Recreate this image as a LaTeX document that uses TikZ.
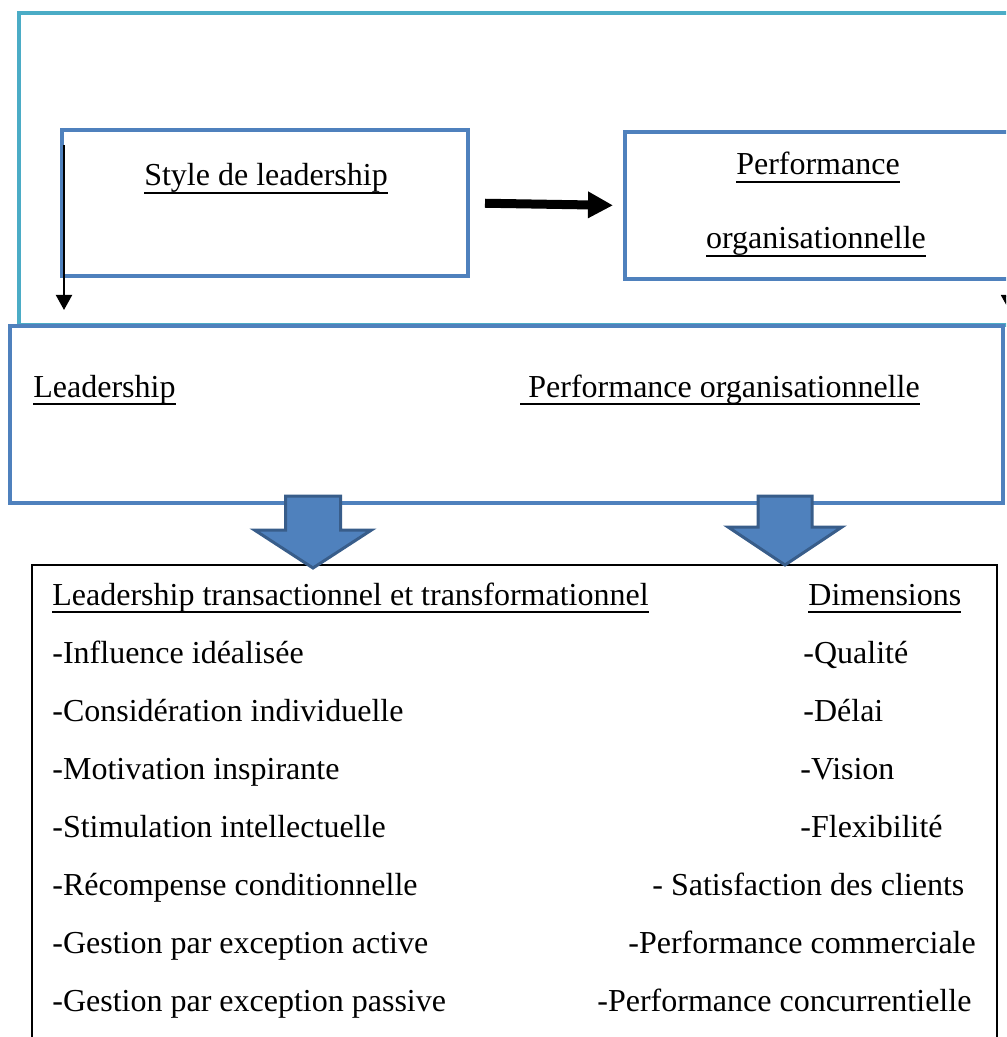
\documentclass[tikz,border=0pt]{standalone}
\usepackage{fontspec}
\setmainfont{Liberation Serif}
\usetikzlibrary{arrows.meta}

\definecolor{wordblue}{HTML}{4F81BD}
\definecolor{wordcyan}{HTML}{4BACC6}
\definecolor{wordedge}{HTML}{385D8A}

% underline at a fixed depth, as a word processor does
\newcommand{\souligne}[1]{\setbox0\hbox{#1}\rlap{\rule[-3.9pt]{\wd0}{0.9pt}}\box0}

\begin{document}
\begin{tikzpicture}[x=0.5pt, y=-0.5pt,
    every node/.style={font=\fontsize{16}{19}\selectfont},
    outerframe/.style={rectangle, draw=wordcyan, line width=2pt, inner sep=0pt},
    panel/.style={rectangle, draw=wordblue, line width=2pt, inner sep=0pt},
    listbox/.style={rectangle, draw=black, line width=1pt, inner sep=0pt},
    lefttext/.style={anchor=base west, inner sep=0pt},
    midtext/.style={anchor=base, inner sep=0pt},
    thinarrow/.style={-{Triangle[length=7.5pt, width=8pt]}, line width=1pt},
    thickarrow/.style={-{Triangle[length=12.5pt, width=12.5pt]}, line width=4.5pt},
    block/.style={fill=wordblue, draw=wordedge, line width=1.5pt, line join=miter}
    ]
    \useasboundingbox (0,0) rectangle (1006,1037);
    \clip (0,0) rectangle (1006,1037);

    % boxes
    \node (cadre) [outerframe, minimum width=510.5pt, minimum height=156pt] at (529.5,169) {};
    \node (style) [panel, minimum width=203pt, minimum height=73pt] at (265,203) {};
    \node (perf) [panel, minimum width=192.5pt, minimum height=73.5pt] at (817.5,205.5) {};
    \node (dual) [panel, fill=white, minimum width=496.5pt, minimum height=88.5pt] at (506.5,414.5) {};
    \node (liste) [listbox, minimum width=482.5pt, minimum height=252.5pt] at (514.5,817.5) {};

    % titles
    \node (styletxt) [midtext] at (266,186) {\souligne{Style de leadership}};
    \node (perftxt1) [midtext] at (818,175) {\souligne{Performance}};
    \node (perftxt2) [midtext] at (816,249) {\souligne{organisationnelle}};
    \node (leadtxt) [lefttext] at (33,397) {\souligne{Leadership}};
    \node (perfdim) [lefttext] at (520,397) {\souligne{\ Performance organisationnelle}};

    % list of dimensions
    \node (ltitle) [lefttext] at (52,605) {\souligne{Leadership transactionnel et transformationnel}};
    \node (rtitle) [lefttext] at (808,605) {\souligne{Dimensions}};
    \foreach \t [count=\i] in {-Influence idéalisée, -Considération individuelle,
        -Motivation inspirante, -Stimulation intellectuelle, -Récompense conditionnelle,
        -Gestion par exception active, -Gestion par exception passive}
        \node (l\i) [lefttext] at (52,605+58.1*\i) {\t};
    \foreach \x/\t [count=\i] in {803/-Qualité, 803/-Délai, 800/-Vision, 800/-Flexibilité,
        652/- Satisfaction des clients, 628/-Performance commerciale,
        597/-Performance concurrentielle}
        \node (r\i) [lefttext] at (\x,605+58.1*\i) {\t};

    % connectors
    \coordinate (lstart) at (64,145);
    \coordinate (lend) at (64,310);
    \coordinate (rstart) at (1009,282);
    \coordinate (rend) at (1009,310);
    \draw [thinarrow] (lstart) -- (lend);
    \draw [thinarrow] (rstart) -- (rend);
    \draw [thickarrow, shorten <=7.5pt, shorten >=5pt] (style.east) -- (perf.west);

    % block arrows down to the list
    \coordinate (blkL) at (313,496);
    \coordinate (blkR) at (785,496);
    \draw [block] (blkL) ++(-27.5,0) -- ++(55,0) -- ++(0,34) -- ++(31,0) -- ++(-58.5,38)
        -- ++(-58.5,-38) -- ++(31,0) -- cycle;
    \draw [block] (blkR) ++(-27,0) -- ++(54,0) -- ++(0,31) -- ++(30,0) -- ++(-57,38)
        -- ++(-57,-38) -- ++(30,0) -- cycle;
\end{tikzpicture}
\end{document}
